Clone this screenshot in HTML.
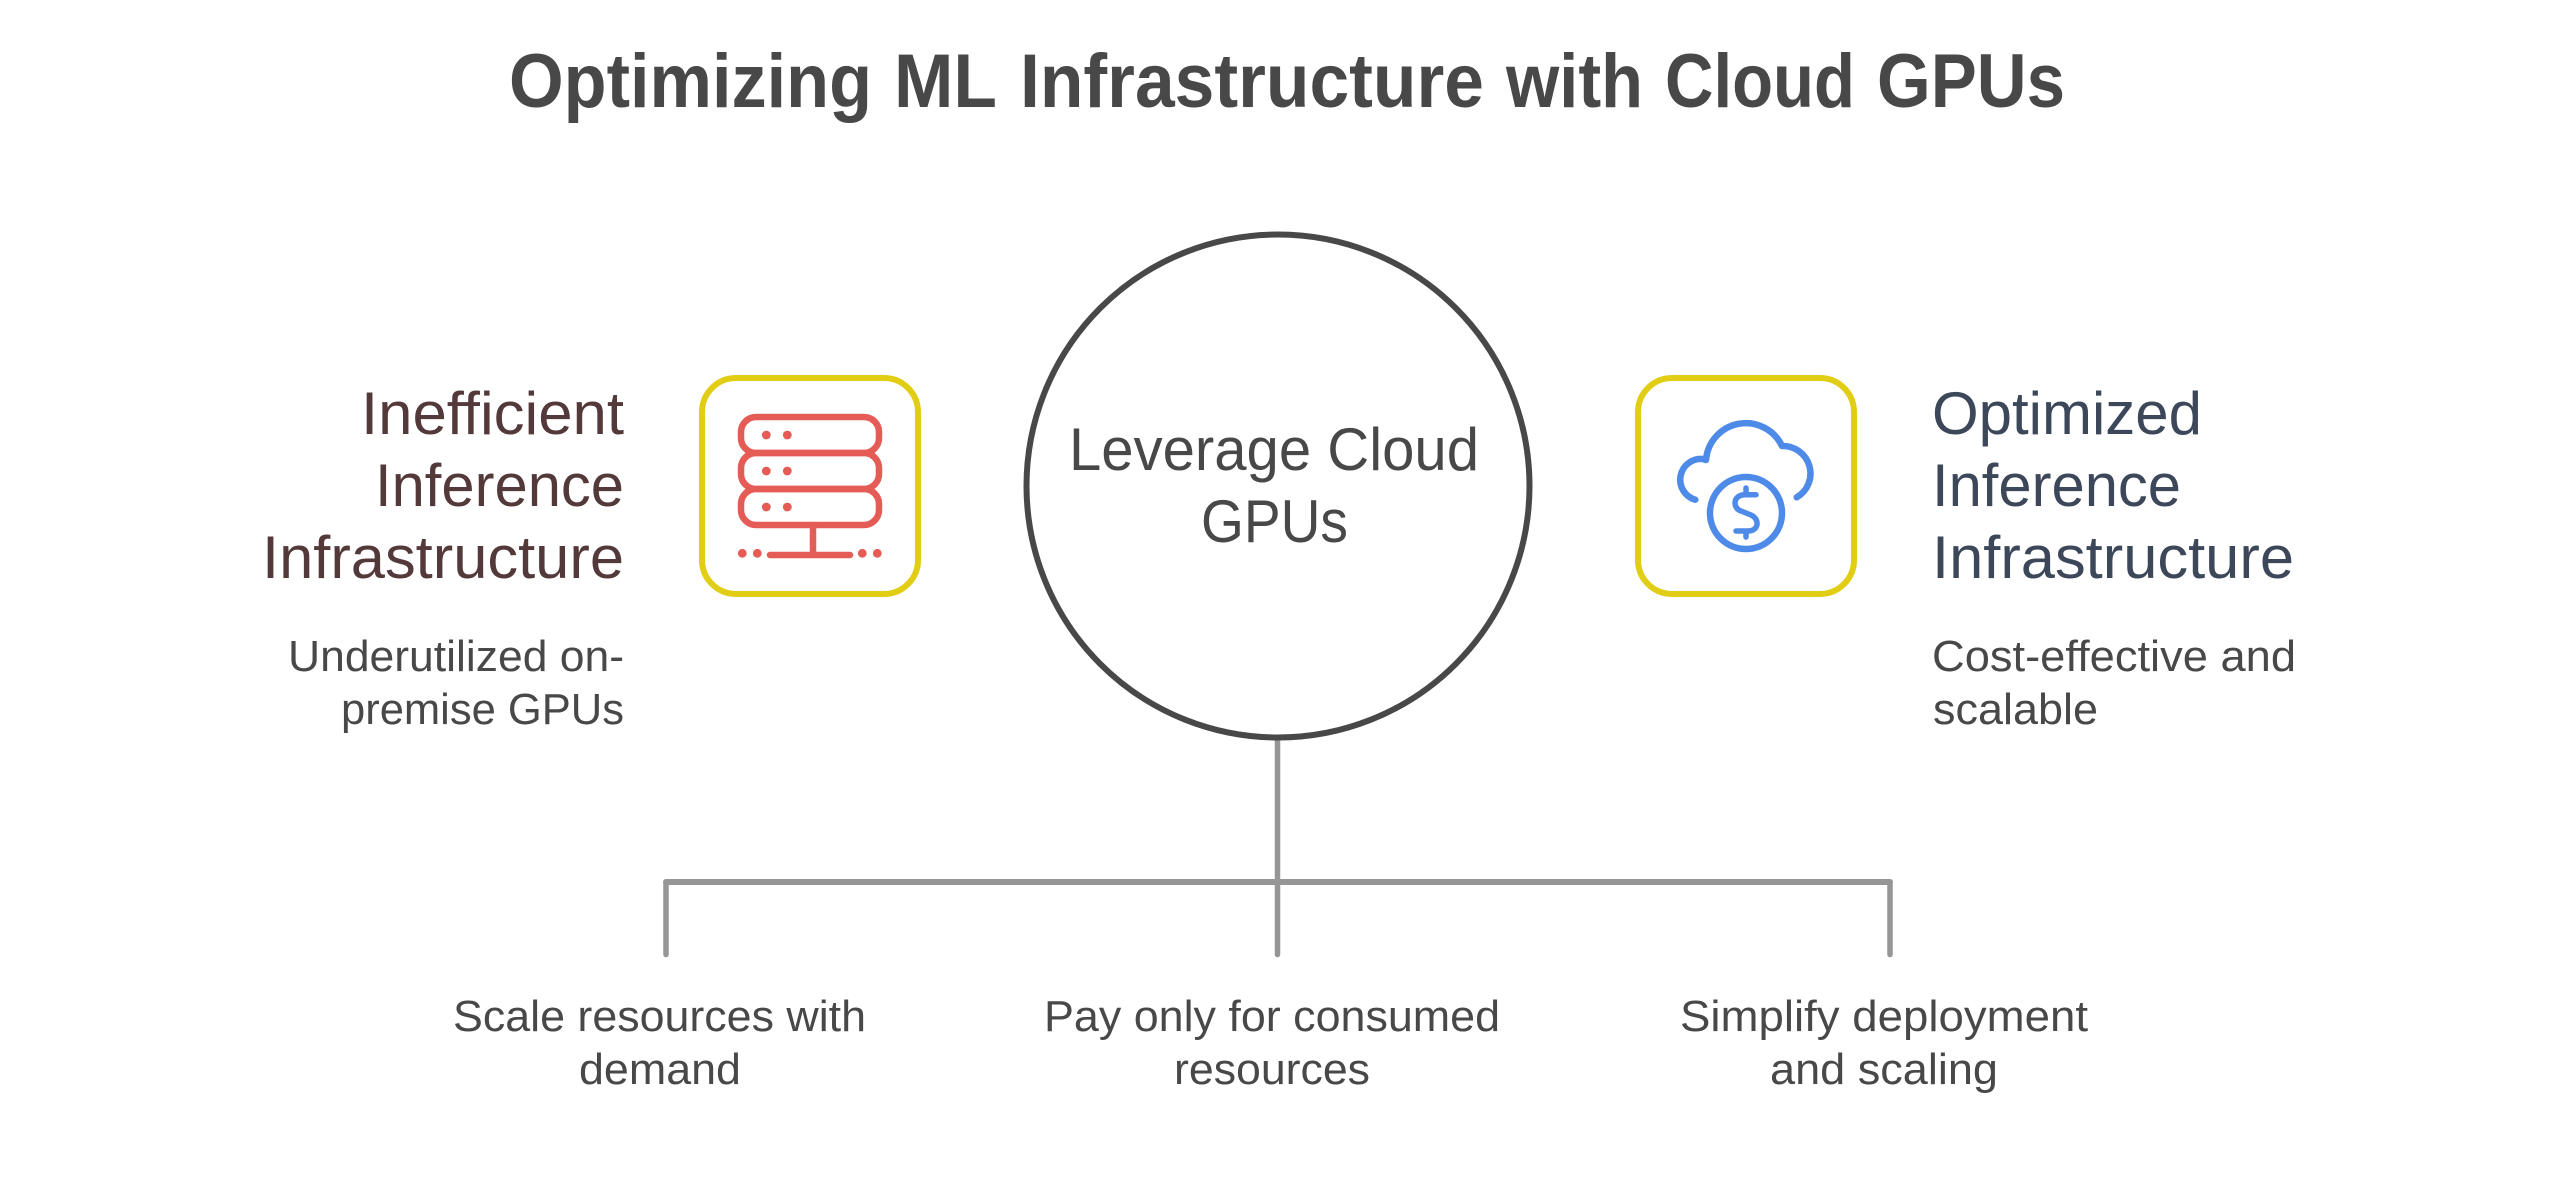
<!DOCTYPE html>
<html><head><meta charset="utf-8"><style>
html,body{margin:0;padding:0;background:#fff;width:2574px;height:1181px;overflow:hidden}
svg{display:block}
text{font-family:"Liberation Sans",sans-serif}
.h{font-size:60px}.s{font-size:44px;fill:#484848}
.t{font-size:76px;font-weight:700;fill:#484848}
</style></head><body>
<svg width="2574" height="1181" viewBox="0 0 2574 1181" xmlns="http://www.w3.org/2000/svg">
<rect width="2574" height="1181" fill="#fff"/>
<text class="t" x="509" y="107" textLength="363" lengthAdjust="spacingAndGlyphs">Optimizing</text>
<text class="t" x="894" y="107" textLength="103" lengthAdjust="spacingAndGlyphs">ML</text>
<text class="t" x="1020" y="107" textLength="464" lengthAdjust="spacingAndGlyphs">Infrastructure</text>
<text class="t" x="1506" y="107" textLength="137" lengthAdjust="spacingAndGlyphs">with</text>
<text class="t" x="1665" y="107" textLength="190" lengthAdjust="spacingAndGlyphs">Cloud</text>
<text class="t" x="1877" y="107" textLength="188" lengthAdjust="spacingAndGlyphs">GPUs</text>

<!-- connectors -->
<g stroke="#969696" fill="none" stroke-linecap="round">
<path d="M1277.5 740V882" stroke-width="5.5"/>
<path d="M666 882H1890" stroke-width="6"/>
<path d="M666 882V954.5M1277.5 882V954.5M1890 882V954.5" stroke-width="5.5"/>
</g>
<circle cx="1278" cy="486" r="251.5" fill="#fff" stroke="#484848" stroke-width="6"/>
<g class="h" fill="#484848">
<text x="1069" y="470" textLength="410" lengthAdjust="spacingAndGlyphs">Leverage Cloud</text>
<text x="1201" y="542" textLength="147" lengthAdjust="spacingAndGlyphs">GPUs</text>
</g>

<!-- left -->
<g class="h" fill="#53393a">
<text x="361" y="434" textLength="263" lengthAdjust="spacingAndGlyphs">Inefficient</text>
<text x="375" y="506" textLength="249" lengthAdjust="spacingAndGlyphs">Inference</text>
<text x="262" y="578" textLength="362" lengthAdjust="spacingAndGlyphs">Infrastructure</text>
</g>
<text class="s" x="288" y="671" textLength="336" lengthAdjust="spacingAndGlyphs">Underutilized on-</text>
<text class="s" x="341" y="724" textLength="283" lengthAdjust="spacingAndGlyphs">premise GPUs</text>

<rect x="702" y="378" width="216" height="216" rx="34" fill="#fff" stroke="#e1cd14" stroke-width="6"/>
<g fill="none" stroke="#e55b55" stroke-width="6.5" stroke-linecap="round">
<rect x="741" y="417" width="138" height="36" rx="15"/>
<rect x="741" y="453" width="138" height="36" rx="15"/>
<rect x="741" y="489" width="138" height="36" rx="15"/>
<path d="M813 525V555M770 555H850"/>
</g>
<g fill="#e55b55">
<circle cx="766.3" cy="435" r="4.4"/><circle cx="787.3" cy="435" r="4.4"/>
<circle cx="766.3" cy="471" r="4.4"/><circle cx="787.3" cy="471" r="4.4"/>
<circle cx="766.3" cy="507" r="4.4"/><circle cx="787.3" cy="507" r="4.4"/>
<circle cx="742.3" cy="553.3" r="4.4"/><circle cx="757.3" cy="553.3" r="4.4"/>
<circle cx="862.3" cy="553.3" r="4.4"/><circle cx="877.3" cy="553.3" r="4.4"/>
</g>

<!-- right -->
<rect x="1638" y="378" width="216" height="216" rx="34" fill="#fff" stroke="#e1cd14" stroke-width="6"/>
<g fill="none" stroke="#4e8ae8" stroke-width="6.5" stroke-linecap="round" stroke-linejoin="round">
<path d="M1695.3 499.7A20.8 20.8 0 0 1 1703 459L1706 460A40 40 0 0 1 1782 446A27.5 27.5 0 0 1 1796.7 497.3"/>
<circle cx="1746" cy="513" r="36"/>
<path stroke-width="5.5" d="M1756 494.7H1745C1733 494.7 1732 508 1741 511L1751 515C1760 519 1759 531 1748 531H1736M1746 488V494M1746 531V537"/>
</g>
<g class="h" fill="#3c4759">
<text x="1932" y="434" textLength="270" lengthAdjust="spacingAndGlyphs">Optimized</text>
<text x="1932" y="506" textLength="249" lengthAdjust="spacingAndGlyphs">Inference</text>
<text x="1932" y="578" textLength="362" lengthAdjust="spacingAndGlyphs">Infrastructure</text>
</g>
<text class="s" x="1932" y="671" textLength="364" lengthAdjust="spacingAndGlyphs">Cost-effective and</text>
<text class="s" x="1933" y="724" textLength="165" lengthAdjust="spacingAndGlyphs">scalable</text>

<!-- bottom labels -->
<text class="s" x="453" y="1031" textLength="413" lengthAdjust="spacingAndGlyphs">Scale resources with</text>
<text class="s" x="579" y="1084" textLength="162" lengthAdjust="spacingAndGlyphs">demand</text>
<text class="s" x="1044" y="1031" textLength="456" lengthAdjust="spacingAndGlyphs">Pay only for consumed</text>
<text class="s" x="1174" y="1084" textLength="196" lengthAdjust="spacingAndGlyphs">resources</text>
<text class="s" x="1680" y="1031" textLength="408" lengthAdjust="spacingAndGlyphs">Simplify deployment</text>
<text class="s" x="1770" y="1084" textLength="228" lengthAdjust="spacingAndGlyphs">and scaling</text>
</svg>
</body></html>
